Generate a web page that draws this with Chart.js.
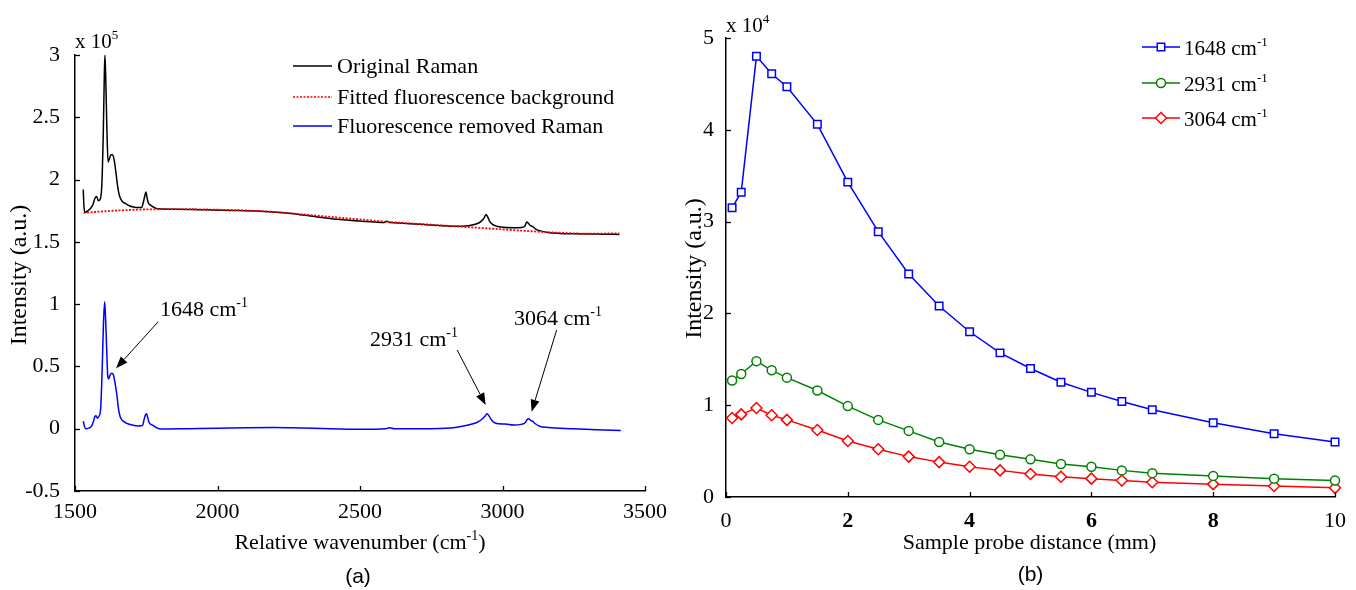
<!DOCTYPE html>
<html><head><meta charset="utf-8">
<script src="https://cdn.jsdelivr.net/npm/chart.js@4.4.0/dist/chart.umd.min.js"></script>
<style>
html,body{margin:0;padding:0;background:#fff;}
#wrap{position:relative;width:1356px;height:590px;overflow:hidden;background:#fff;}
canvas{position:absolute;top:0;}
#cA{left:0;} #cB{left:678px;}
</style></head><body>
<div id="wrap"><canvas id="cA" width="678" height="590"></canvas><canvas id="cB" width="678" height="590"></canvas></div>
<script>
// ---------- (a) Raman spectra, intensity in units of 10^5 ----------
const wnOriginal = [1529,1531,1535,1545,1555,1563,1570,1576,1582,1588,1594,1599,1603,1605,1608,1612,1616,1621,1626,1632,1638,1644,1650,1656,1664,1675,1690,1705,1720,1734,1740,1745,1749,1753,1758,1765,1775,1790,1850,1950,2050,2150,2250,2350,2450,2550,2585,2595,2605,2650,2750,2830,2880,2910,2925,2935,2942,2948,2955,2965,2980,3000,3040,3065,3078,3085,3092,3098,3105,3115,3130,3160,3200,3250,3300,3350,3410];
const originalRaman = [1.92,1.80,1.735,1.75,1.77,1.80,1.85,1.865,1.83,1.84,1.95,2.35,2.85,3.00,2.80,2.40,2.14,2.17,2.20,2.20,2.15,2.05,1.94,1.87,1.83,1.81,1.79,1.78,1.775,1.775,1.82,1.87,1.90,1.85,1.81,1.795,1.78,1.765,1.762,1.757,1.752,1.745,1.73,1.70,1.675,1.66,1.655,1.665,1.655,1.65,1.635,1.625,1.63,1.645,1.665,1.69,1.72,1.70,1.665,1.64,1.625,1.617,1.613,1.615,1.625,1.66,1.645,1.63,1.625,1.605,1.59,1.575,1.568,1.565,1.563,1.562,1.56];
const wnBackground = [1530,1600,1700,1800,1900,2000,2100,2200,2300,2400,2500,2600,2700,2800,2900,3000,3100,3200,3300,3410];
const fittedBackground = [1.733,1.745,1.757,1.762,1.762,1.758,1.752,1.74,1.72,1.70,1.68,1.66,1.645,1.63,1.615,1.60,1.585,1.573,1.566,1.568];
const wnRemoved = [1529,1533,1538,1548,1558,1565,1570,1574,1578,1584,1590,1595,1600,1604,1607,1611,1615,1618,1623,1629,1635,1641,1647,1652,1658,1665,1680,1700,1720,1737,1742,1747,1751,1755,1760,1770,1785,1800,1900,2000,2100,2200,2300,2400,2500,2590,2605,2620,2700,2780,2840,2880,2910,2930,2940,2946,2952,2960,2970,2985,3010,3040,3065,3080,3087,3092,3098,3105,3115,3130,3160,3250,3330,3415];
const removedRaman = [0.06,0.02,0.0,0.005,0.02,0.06,0.10,0.105,0.085,0.10,0.16,0.45,0.85,1.02,0.90,0.65,0.42,0.40,0.43,0.445,0.43,0.36,0.27,0.17,0.10,0.07,0.045,0.03,0.022,0.025,0.07,0.11,0.12,0.09,0.05,0.03,0.01,-0.003,0.0,0.003,0.008,0.01,0.005,0.0,-0.005,0.0,0.008,0.0,0.0,0.002,0.012,0.03,0.05,0.08,0.105,0.12,0.105,0.075,0.05,0.04,0.038,0.03,0.035,0.05,0.075,0.08,0.068,0.06,0.04,0.02,0.01,0.0,-0.008,-0.015];
const ticksAx = [1500,2000,2500,3000,3500];
const ticksAy = [-0.5,0,0.5,1,1.5,2,2.5,3];
const legendA = ['Original Raman','Fitted fluorescence background','Fluorescence removed Raman'];
// annotations: [label, textX, textBaselineY, arrowStartX, arrowStartY, tipX, tipY]
const annotationsA = [
  ['1648', 1798, 0.905, 1792, 0.859, 1644, 0.485],
  ['2931', 2535, 0.664, 2841, 0.632, 2941, 0.19],
  ['3064', 3040, 0.833, 3190, 0.792, 3102, 0.136]
];

// ---------- (b) intensity vs distance, units of 10^4 ----------
const distances = [0.1,0.25,0.5,0.75,1,1.5,2,2.5,3,3.5,4,4.5,5,5.5,6,6.5,7,8,9,10];
const int1648 = [3.15,3.32,4.80,4.61,4.47,4.06,3.43,2.89,2.43,2.08,1.80,1.57,1.40,1.25,1.14,1.04,0.95,0.81,0.69,0.60];
const int2931 = [1.27,1.34,1.48,1.38,1.30,1.16,0.99,0.84,0.72,0.60,0.52,0.46,0.41,0.36,0.33,0.29,0.26,0.23,0.20,0.18];
const int3064 = [0.86,0.90,0.97,0.89,0.84,0.73,0.61,0.52,0.44,0.38,0.33,0.29,0.25,0.22,0.20,0.18,0.16,0.14,0.12,0.10];
const ticksBx = [0,2,4,6,8,10];
const ticksBy = [0,1,2,3,4,5];
const legendB = ['1648','2931','3064'];

const SERIF = '"Liberation Serif", "Times New Roman", serif';
const SANS = '"Liberation Sans", Arial, sans-serif';

function pts(xs, ys){ return xs.map((x,i)=>({x:x, y:ys[i]})); }

function richText(ctx, parts, x, y, align, size, family){
  const supSize = Math.round(size*0.62);
  const ws = []; let w = 0;
  parts.forEach(p=>{ ctx.font = (p.sup?supSize:size)+'px '+family; const m = ctx.measureText(p.t).width; ws.push(m); w += m; });
  let cx = align==='center' ? x - w/2 : (align==='right' ? x - w : x);
  ctx.textAlign = 'left'; ctx.textBaseline = 'alphabetic'; ctx.fillStyle = '#000';
  parts.forEach((p,i)=>{ ctx.font = (p.sup?supSize:size)+'px '+family; ctx.fillText(p.t, cx, p.sup ? y - size*0.42 : y); cx += ws[i]; });
}

function drawMarker(ctx, style, x, y, r, color){
  ctx.save(); ctx.fillStyle='#fff'; ctx.strokeStyle=color; ctx.lineWidth=1.5;
  ctx.beginPath();
  if(style==='rect'){ const s=r*Math.SQRT1_2; ctx.rect(x-s,y-s,2*s,2*s); }
  else if(style==='circle'){ ctx.arc(x,y,r,0,Math.PI*2); }
  else { ctx.moveTo(x,y-r); ctx.lineTo(x+r,y); ctx.lineTo(x,y+r); ctx.lineTo(x-r,y); ctx.closePath(); }
  ctx.fill(); ctx.stroke(); ctx.restore();
}

const inwardTicks = {
  id:'inwardTicks',
  afterDatasetsDraw(chart){
    const ctx = chart.ctx; const a = chart.chartArea;
    const xs = chart.scales.x, ys = chart.scales.y;
    ctx.save(); ctx.strokeStyle='#000'; ctx.lineWidth=1.3;
    xs.ticks.forEach(t=>{ const p = Math.round(xs.getPixelForValue(t.value))+0.5; ctx.beginPath(); ctx.moveTo(p,a.bottom); ctx.lineTo(p,a.bottom-5); ctx.stroke(); });
    ys.ticks.forEach(t=>{ const p = Math.round(ys.getPixelForValue(t.value))+0.5; ctx.beginPath(); ctx.moveTo(a.left,p); ctx.lineTo(a.left+5,p); ctx.stroke(); });
    ctx.restore();
  }
};

function fixedTicks(arr){ return function(scale){ scale.ticks = arr.map(v=>({value:v})); }; }

// ---------- chart (a) ----------
const decorA = {
  id:'decorA',
  afterDraw(chart){
    const ctx = chart.ctx, a = chart.chartArea, xs = chart.scales.x, ys = chart.scales.y;
    ctx.save();
    // exponent
    richText(ctx, [{t:'x 10'},{t:'5',sup:true}], a.left, a.top-7, 'left', 21, SERIF);
    // y title
    ctx.save(); ctx.translate(a.left-55, (a.top+a.bottom)/2 + 2); ctx.rotate(-Math.PI/2);
    ctx.font = '24px '+SERIF; ctx.fillStyle='#000'; ctx.textAlign='center'; ctx.textBaseline='middle';
    ctx.fillText('Intensity (a.u.)', 0, 0); ctx.restore();
    // x title
    richText(ctx, [{t:'Relative wavenumber (cm'},{t:'-1',sup:true},{t:')'}], (a.left+a.right)/2, a.bottom+58, 'center', 22, SERIF);
    // panel label
    ctx.font = '21px '+SANS; ctx.fillStyle='#000'; ctx.textAlign='center'; ctx.textBaseline='middle';
    ctx.fillText('(a)', (a.left+a.right)/2 - 2, a.bottom+86);
    // legend
    const styles = [{c:'#000',d:[]},{c:'#ff0000',d:[2,1.5]},{c:'#0000ff',d:[]}];
    const rows = [66,97,126];
    legendA.forEach((txt,i)=>{
      ctx.save(); ctx.strokeStyle=styles[i].c; ctx.lineWidth=1.6; ctx.setLineDash(styles[i].d);
      ctx.beginPath(); ctx.moveTo(293,rows[i]); ctx.lineTo(332,rows[i]); ctx.stroke(); ctx.restore();
      ctx.font='22px '+SERIF; ctx.fillStyle='#000'; ctx.textAlign='left'; ctx.textBaseline='middle';
      ctx.fillText(txt, 337, rows[i]+1);
    });
    // annotations
    annotationsA.forEach(an=>{
      richText(ctx, [{t:an[0]+' cm'},{t:'-1',sup:true}], xs.getPixelForValue(an[1]), ys.getPixelForValue(an[2]), 'left', 22, SERIF);
      const x1 = xs.getPixelForValue(an[3]), y1 = ys.getPixelForValue(an[4]);
      const x2 = xs.getPixelForValue(an[5]), y2 = ys.getPixelForValue(an[6]);
      const ang = Math.atan2(y2-y1, x2-x1), L = 12, W = 4.5;
      const bx = x2 - L*Math.cos(ang), by = y2 - L*Math.sin(ang);
      ctx.strokeStyle='#000'; ctx.lineWidth=1; ctx.beginPath(); ctx.moveTo(x1,y1); ctx.lineTo(bx,by); ctx.stroke();
      ctx.fillStyle='#000'; ctx.beginPath(); ctx.moveTo(x2,y2);
      ctx.lineTo(bx + W*Math.sin(ang), by - W*Math.cos(ang));
      ctx.lineTo(bx - W*Math.sin(ang), by + W*Math.cos(ang)); ctx.closePath(); ctx.fill();
    });
    ctx.restore();
  }
};

new Chart(document.getElementById('cA'), {
  type:'line',
  data:{ datasets:[
    {label:'Original Raman', data:pts(wnOriginal, originalRaman), borderColor:'#000', borderWidth:1.5, pointRadius:0, cubicInterpolationMode:'monotone', order:2},
    {label:'Fitted fluorescence background', data:pts(wnBackground, fittedBackground), borderColor:'#ff0000', borderWidth:1.8, borderDash:[2,1.5], pointRadius:0, cubicInterpolationMode:'monotone', order:0},
    {label:'Fluorescence removed Raman', data:pts(wnRemoved, removedRaman), borderColor:'#0000ff', borderWidth:1.5, pointRadius:0, cubicInterpolationMode:'monotone', order:1}
  ]},
  options:{
    responsive:false, animation:false, devicePixelRatio:1, events:[],
    layout:{padding:{top:55, right:33, left:0, bottom:0}},
    plugins:{legend:{display:false}, tooltip:{enabled:false}},
    scales:{
      x:{type:'linear', min:1500, max:3500, afterBuildTicks:fixedTicks(ticksAx), afterFit(s){ s.height = 99; },
         grid:{display:false}, border:{display:true, color:'#000', width:1.5},
         ticks:{padding:0, color:'#000', font:{family:SERIF, size:22}, callback:v=>String(v), maxRotation:0, autoSkip:false}},
      y:{type:'linear', min:-0.5, max:3, afterBuildTicks:fixedTicks(ticksAy), afterFit(s){ s.width = 75; },
         grid:{display:false}, border:{display:true, color:'#000', width:1.5},
         ticks:{padding:7, color:'#000', font:{family:SERIF, size:22}, callback:v=>String(v), autoSkip:false}}
    }
  },
  plugins:[inwardTicks, decorA]
});

// ---------- chart (b) ----------
const markerStyles = ['rect','circle','rectRot'];
const colorsB = ['#0000ff','#008000','#ff0000'];
const decorB = {
  id:'decorB',
  afterDraw(chart){
    const ctx = chart.ctx, a = chart.chartArea;
    ctx.save();
    richText(ctx, [{t:'x 10'},{t:'4',sup:true}], a.left, a.top-6, 'left', 21, SERIF);
    ctx.save(); ctx.translate(a.left-31, (a.top+a.bottom)/2 + 1); ctx.rotate(-Math.PI/2);
    ctx.font = '24px '+SERIF; ctx.fillStyle='#000'; ctx.textAlign='center'; ctx.textBaseline='middle';
    ctx.fillText('Intensity (a.u.)', 0, 0); ctx.restore();
    richText(ctx, [{t:'Sample probe distance (mm)'}], (a.left+a.right)/2 - 1, a.bottom+52, 'center', 22, SERIF);
    ctx.font = '21px '+SANS; ctx.fillStyle='#000'; ctx.textAlign='center'; ctx.textBaseline='middle';
    ctx.fillText('(b)', (a.left+a.right)/2, a.bottom+78);
    const rows = [47,83,118];
    legendB.forEach((txt,i)=>{
      ctx.save(); ctx.strokeStyle=colorsB[i]; ctx.lineWidth=1.5;
      ctx.beginPath(); ctx.moveTo(464,rows[i]); ctx.lineTo(502,rows[i]); ctx.stroke(); ctx.restore();
      drawMarker(ctx, i===1?'circle':(i===0?'rect':'diamond'), 483, rows[i], i===0?5.3:(i===1?4.5:5.5), colorsB[i]);
      richText(ctx, [{t:txt+' cm'},{t:'-1',sup:true}], 506, rows[i]+8, 'left', 21, SERIF);
    });
    ctx.restore();
  }
};

function dsB(label, ys, i, r){
  return {label:label, data:pts(distances, ys), borderColor:colorsB[i], borderWidth:1.5,
    pointStyle:markerStyles[i], pointRadius:r, pointBackgroundColor:'#fff', pointBorderColor:colorsB[i], pointBorderWidth:1.5, clip:false};
}

new Chart(document.getElementById('cB'), {
  type:'line',
  data:{ datasets:[ dsB('1648 cm-1', int1648, 0, 5.3), dsB('2931 cm-1', int2931, 1, 4.5), dsB('3064 cm-1', int3064, 2, 5.5) ]},
  options:{
    responsive:false, animation:false, devicePixelRatio:1, events:[],
    layout:{padding:{top:38, right:21, left:0, bottom:0}},
    plugins:{legend:{display:false}, tooltip:{enabled:false}},
    scales:{
      x:{type:'linear', min:0, max:10, afterBuildTicks:fixedTicks(ticksBx), afterFit(s){ s.height = 93; },
         grid:{display:false}, border:{display:true, color:'#000', width:1.5},
         ticks:{padding:3, color:'#000', autoSkip:false, maxRotation:0, callback:v=>String(v),
           font:(c)=>({family:SERIF, size:22, weight:(c.tick && [2,4,6,8].includes(c.tick.value)) ? 'bold' : 'normal'})}},
      y:{type:'linear', min:0, max:5, afterBuildTicks:fixedTicks(ticksBy), afterFit(s){ s.width = 48; },
         grid:{display:false}, border:{display:true, color:'#000', width:1.5},
         ticks:{padding:4, color:'#000', font:{family:SERIF, size:22}, callback:v=>String(v), autoSkip:false}}
    }
  },
  plugins:[inwardTicks, decorB]
});
</script>
</body></html>
